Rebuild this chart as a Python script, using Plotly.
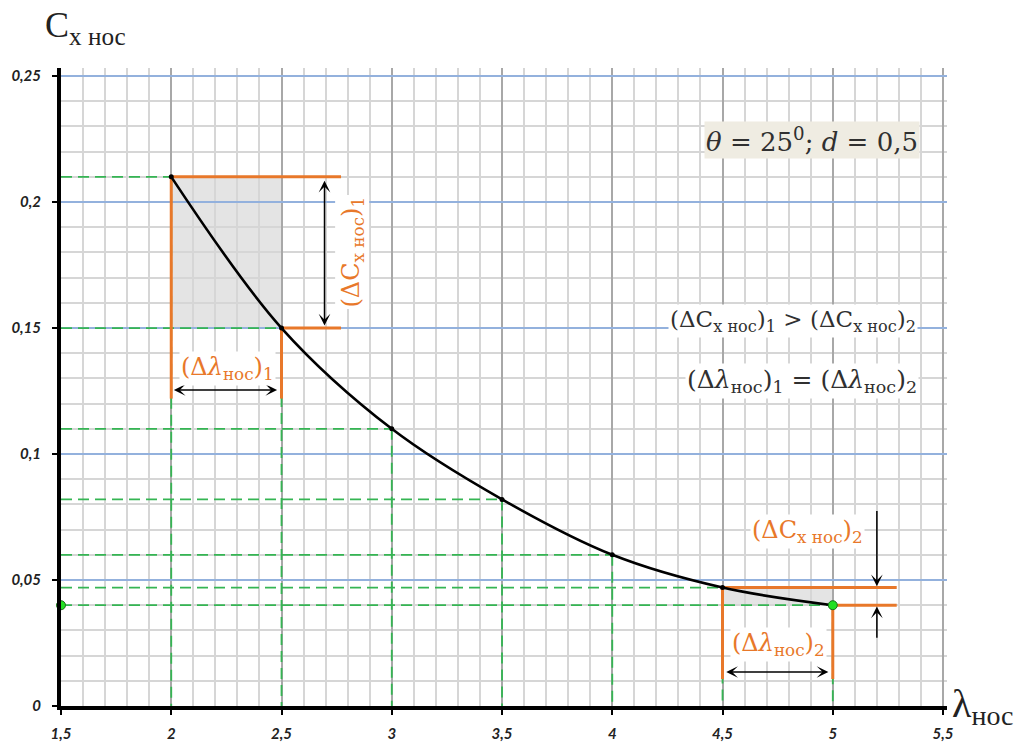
import plotly.graph_objects as go

# Drag coefficient of the nose part vs. its relative length
lam = [2.0, 2.5, 3.0, 3.5, 4.0, 4.5, 5.0]
cx = [0.21, 0.15, 0.11, 0.082, 0.06, 0.047, 0.04]

x_ticks = [1.5, 2.0, 2.5, 3.0, 3.5, 4.0, 4.5, 5.0, 5.5]
x_ticktext = ["1,5", "2", "2,5", "3", "3,5", "4", "4,5", "5", "5,5"]
y_ticks = [0.0, 0.05, 0.10, 0.15, 0.20, 0.25]
y_ticktext = ["0", "0,05", "0,1", "0,15", "0,2", "0,25"]

X_MIN = 1.5
ORANGE = "#E8782A"
GREEN = "#35B553"
MATH_FONT = "DejaVu Serif"

# bracket geometry for the two compared intervals (indices into lam/cx)
pairs = [(0, 1), (5, 6)]
bracket_right = [2.77, 5.29]
bracket_foot = [0.122, 0.0107]

fig = go.Figure()

# shaded rectangles spanning each compared interval
for (i, j) in pairs:
    fig.add_shape(type="rect", xref="x", yref="y", layer="below",
                  x0=lam[i], x1=lam[j], y0=cx[j], y1=cx[i],
                  fillcolor="#E4E4E4", line_width=0)

# green dashed projection lines to both axes
gx, gy = [], []
for xv, yv in zip(lam, cx):
    gx += [X_MIN, xv, None, xv, xv, None]
    gy += [yv, yv, None, yv, 0, None]
fig.add_trace(go.Scatter(x=gx, y=gy, mode="lines", hoverinfo="skip",
                         line=dict(color=GREEN, width=1.8, dash="11px,6px"),
                         showlegend=False))

# orange brackets
ox, oy = [], []
for (i, j), xr, yf in zip(pairs, bracket_right, bracket_foot):
    ox += [lam[i], xr, None, lam[j], xr, None,
           lam[i], lam[i], None, lam[j], lam[j], None]
    oy += [cx[i], cx[i], None, cx[j], cx[j], None,
           cx[i], yf, None, cx[j], yf, None]
fig.add_trace(go.Scatter(x=ox, y=oy, mode="lines", hoverinfo="skip",
                         line=dict(color=ORANGE, width=3), showlegend=False))

# the curve itself
fig.add_trace(go.Scatter(x=lam, y=cx, mode="lines+markers",
                         line=dict(color="black", width=2.6, shape="spline"),
                         marker=dict(color="black", size=5),
                         showlegend=False))

# highlighted point and its projection on the vertical axis
fig.add_trace(go.Scatter(x=[X_MIN, lam[-1]], y=[cx[-1], cx[-1]], mode="markers",
                         marker=dict(color="#22E022", size=9,
                                     line=dict(color="#1A6E1A", width=1)),
                         cliponaxis=False, showlegend=False))


def arrow(x0, y0, x1, y1, both=True):
    fig.add_annotation(x=x1, y=y1, ax=x0, ay=y0, xref="x", yref="y",
                       axref="x", ayref="y", text="", showarrow=True,
                       arrowhead=3, arrowsize=1.3, arrowwidth=1.5,
                       arrowcolor="black", standoff=0,
                       arrowside="end+start" if both else "end",
                       startarrowhead=3, startarrowsize=1.3, startstandoff=0)


arrow(2.695, cx[0] - 0.001, 2.695, cx[1] + 0.001)
arrow(lam[0] + 0.005, 0.1254, lam[1] - 0.02, 0.1254)
arrow(lam[5] + 0.01, 0.0135, lam[6] - 0.02, 0.0135)
arrow(5.2, 0.078, 5.2, cx[5] + 0.0005, both=False)
arrow(5.2, 0.0265, 5.2, cx[6] - 0.0005, both=False)


def label(x, y, text, color, size=24, angle=0, bg="white"):
    fig.add_annotation(x=x, y=y, xref="x", yref="y", text=text, showarrow=False,
                       textangle=angle, bgcolor=bg, borderpad=1,
                       font=dict(family=MATH_FONT, size=size, color=color))


dC = "(ΔC<sub>x нос</sub>)<sub>%d</sub>"
dL = "(Δ<i>λ</i><sub>нос</sub>)<sub>%d</sub>"

label(2.255, 0.134, dL % 1, ORANGE)
label(2.82, 0.180, dC % 1, ORANGE, angle=-90)
label(4.886, 0.0693, dC % 2, ORANGE)
label(4.755, 0.0245, dL % 2, ORANGE)
label(4.818, 0.1527, (dC % 1) + " > " + (dC % 2), "#303030", size=23)
label(4.86, 0.129, (dL % 1) + " = " + (dL % 2), "#303030", size=25)
label(4.905, 0.2248, "<i>θ</i> = 25<sup>0</sup>; <i>d</i> = 0,5", "#303030",
      size=26, bg="#EFECE2")

# axis titles
fig.add_annotation(x=-0.02, y=1.063, xref="paper", yref="paper", showarrow=False,
                   xanchor="left", yanchor="middle",
                   text="C<sub>x нос</sub>",
                   font=dict(family="Liberation Serif", size=36, color="#222"))
fig.add_annotation(x=1.003, y=0.0, xref="paper", yref="paper", showarrow=False,
                   xanchor="left", yanchor="middle",
                   text="λ<sub>нос</sub>",
                   font=dict(family="Liberation Serif", size=40, color="#222"))

tick_font = dict(family="Lato", size=15, color="#222", weight="bold", style="italic")

fig.update_xaxes(range=[X_MIN, 5.518], tickvals=x_ticks, ticktext=x_ticktext,
                 showgrid=True, gridcolor="#A8A8A8", gridwidth=2,
                 minor=dict(dtick=0.1, tick0=X_MIN, showgrid=True,
                            gridcolor="#D6D6D6", gridwidth=1.6),
                 showline=True, linecolor="black", linewidth=4,
                 ticks="outside", ticklen=5, tickwidth=1.5, tickcolor="black",
                 tickfont=tick_font, ticklabelstandoff=6, zeroline=False,
                 automargin=False)
fig.update_yaxes(range=[0, 0.2532], tickvals=y_ticks, ticktext=y_ticktext,
                 showgrid=True, gridcolor="#93B1DD", gridwidth=2,
                 minor=dict(dtick=0.01, tick0=0, showgrid=True,
                            gridcolor="#D6D6D6", gridwidth=1.6),
                 showline=True, linecolor="black", linewidth=4,
                 ticks="outside", ticklen=5, tickwidth=1.5, tickcolor="black",
                 tickfont=tick_font, ticklabelstandoff=8, zeroline=False,
                 automargin=False)

fig.update_layout(width=1021, height=744,
                  margin=dict(l=61, r=74, t=68, b=38, autoexpand=False),
                  plot_bgcolor="white", paper_bgcolor="white",
                  showlegend=False)

fig.write_html("out.html")
